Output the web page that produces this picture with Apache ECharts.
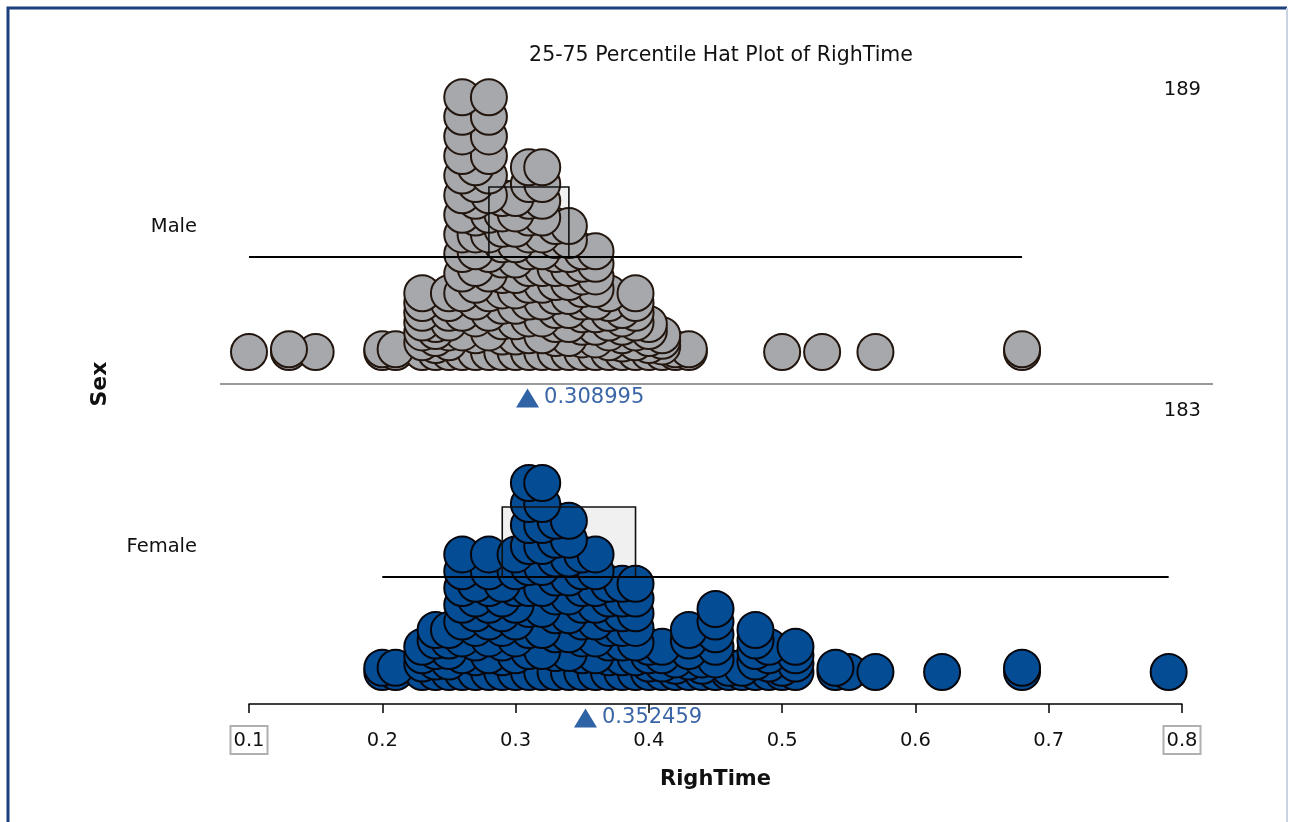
<!DOCTYPE html>
<html>
<head>
<meta charset="utf-8">
<script src="https://cdn.jsdelivr.net/npm/echarts@6/dist/echarts.min.js"></script>
<style>
html,body{margin:0;padding:0;background:#fff;}
#chart{width:1289px;height:822px;}
</style>
</head>
<body>
<div id="chart"></div>
<script>
// ---------------- data ----------------
const groups = ['Male', 'Female'];
const xTicks = [0.1, 0.2, 0.3, 0.4, 0.5, 0.6, 0.7, 0.8];

const maleValues = [0.10,0.13,0.15,0.20,0.21,0.23,0.24,0.25,0.26,0.27,0.28,0.29,0.30,0.31,0.32,0.33,0.34,0.35,0.36,0.37,0.38,0.39,0.40,0.41,0.42,0.43,0.50,0.53,0.57,0.68];
const maleCounts = [1,2,1,2,2,7,5,7,14,12,14,11,11,12,12,10,10,9,9,7,6,7,5,4,2,2,1,1,1,2];

const femaleValues = [0.20,0.21,0.23,0.24,0.25,0.26,0.27,0.28,0.29,0.30,0.31,0.32,0.33,0.34,0.35,0.36,0.37,0.38,0.39,0.40,0.41,0.42,0.43,0.44,0.45,0.46,0.47,0.48,0.49,0.50,0.51,0.54,0.55,0.57,0.62,0.68,0.79];
const femaleCounts = [2,2,4,5,5,8,7,8,7,8,10,10,9,9,8,8,7,7,7,4,4,3,5,3,6,2,2,5,4,2,4,2,1,1,1,2,1];

const maleQuartiles = [0.28, 0.34];
const maleRange = [0.10, 0.68];
const femaleQuartiles = [0.29, 0.39];
const femaleRange = [0.20, 0.79];
const meanValues = [0.308995, 0.352459];

// ---------------- layout constants ----------------
const FONT = '"DejaVu Sans", sans-serif';
const GRID_H = 262;          // y units == px inside each panel
const HAT_LINE = 95;
const HAT_TOP = 165;
const MEAN_LEVEL = -46;
const STACK_K = [1.4, 2.1];  // stacking spread per panel

function stackPoints(values, counts, k) {
  const pts = [];
  values.forEach((v, i) => {
    const n = counts[i];
    for (let j = 0; j < n; j++) pts.push([v, j * n * k]);
  });
  pts.sort((a, b) => a[1] - b[1] || a[0] - b[0]);
  return pts;
}
const sum = a => a.reduce((s, x) => s + x, 0);

const maleDots = stackPoints(maleValues, maleCounts, STACK_K[0]);
const femaleDots = stackPoints(femaleValues, femaleCounts, STACK_K[1]);

const hatData = [
  [[maleQuartiles[0], maleQuartiles[1], maleRange[0], maleRange[1]]],
  [[femaleQuartiles[0], femaleQuartiles[1], femaleRange[0], femaleRange[1]]]
];

function hatFill(params, api) {
  const a = api.coord([api.value(0), HAT_TOP]);
  const b = api.coord([api.value(1), HAT_LINE]);
  return { type: 'rect', shape: { x: a[0], y: a[1], width: b[0] - a[0], height: b[1] - a[1] },
           style: { fill: '#f0f0f0', stroke: null } };
}
function hatLines(params, api) {
  const a = api.coord([api.value(0), HAT_TOP]);
  const b = api.coord([api.value(1), HAT_LINE]);
  const l = api.coord([api.value(2), HAT_LINE]);
  const r = api.coord([api.value(3), HAT_LINE]);
  return { type: 'group', children: [
    { type: 'rect', shape: { x: a[0], y: a[1], width: b[0] - a[0], height: b[1] - a[1] },
      style: { fill: null, stroke: '#111', lineWidth: 1.6 } },
    { type: 'line', shape: { x1: l[0], y1: l[1], x2: r[0], y2: r[1] },
      style: { stroke: '#000', lineWidth: 2 } }
  ]};
}

const chart = echarts.init(document.getElementById('chart'), null, { renderer: 'canvas' });

const dotStyles = [
  { color: '#A7A8AC', borderColor: '#22160e', borderWidth: 2, opacity: 1 },
  { color: '#044C94', borderColor: '#06060c', borderWidth: 2, opacity: 1 }
];

const series = [];
[maleDots, femaleDots].forEach((d, gi) => {
  series.push({ type: 'custom', xAxisIndex: gi, yAxisIndex: gi, z: 1, clip: false,
    renderItem: hatFill, data: hatData[gi], silent: true });
  series.push({ type: 'scatter', xAxisIndex: gi, yAxisIndex: gi, z: 2, clip: false,
    symbol: 'circle', symbolSize: 36, data: d, itemStyle: dotStyles[gi], silent: true });
  series.push({ type: 'custom', xAxisIndex: gi, yAxisIndex: gi, z: 3, clip: false,
    renderItem: hatLines, data: hatData[gi], silent: true });
  series.push({ type: 'scatter', xAxisIndex: gi, yAxisIndex: gi, z: 4, clip: false,
    symbol: 'triangle', symbolSize: [23, 19],
    data: [[meanValues[gi], MEAN_LEVEL]],
    itemStyle: { color: '#3062A6', opacity: 1 },
    label: { show: true, position: 'right', distance: 5, color: '#3A66A8', fontSize: 21,
      fontFamily: FONT, formatter: p => String(meanValues[gi]) },
    silent: true });
});

const option = {
  animation: false,
  backgroundColor: '#fff',
  title: {
    text: '25-75 Percentile Hat Plot of RighTime',
    left: 716, top: 40, textAlign: 'center',
    textStyle: { fontFamily: FONT, fontSize: 20.5, fontWeight: 'normal', color: '#111' }
  },
  grid: [
    { left: 249, right: 107, top: 90, bottom: 470 },
    { left: 249, right: 107, top: 410, bottom: 150 }
  ],
  xAxis: [
    { gridIndex: 0, type: 'value', min: xTicks[0], max: xTicks[xTicks.length - 1], interval: 0.1, show: false },
    { gridIndex: 1, type: 'value', min: xTicks[0], max: xTicks[xTicks.length - 1], interval: 0.1,
      offset: 32,
      axisLine: { show: true, onZero: false, lineStyle: { color: '#000', width: 1.5 } },
      axisTick: { show: true, length: 9, lineStyle: { color: '#000', width: 1.5 } },
      splitLine: { show: false },
      axisLabel: {
        margin: 22,
        formatter: v => {
          const t = v.toFixed(1);
          return (Math.abs(v - xTicks[0]) < 1e-9 || Math.abs(v - xTicks[xTicks.length - 1]) < 1e-9)
            ? '{b|' + t + '}' : '{p|' + t + '}';
        },
        rich: {
          b: { fontFamily: FONT, fontSize: 19.5, color: '#111', borderColor: '#b0b0b0', borderWidth: 2, padding: [5, 3, 3, 3] },
          p: { fontFamily: FONT, fontSize: 19.5, color: '#111', padding: [5, 3, 3, 3] }
        }
      },
      name: 'RighTime', nameLocation: 'middle', nameGap: 65,
      nameTextStyle: { fontFamily: FONT, fontSize: 21, fontWeight: 'bold', color: '#111' }
    }
  ],
  yAxis: [
    { gridIndex: 0, type: 'value', min: 0, max: GRID_H, show: false },
    { gridIndex: 1, type: 'value', min: 0, max: GRID_H, show: false }
  ],
  graphic: [
    { type: 'polyline', shape: { points: [[8, 830], [8, 8], [1287, 8]] },
      style: { stroke: '#1C3F7E', lineWidth: 3, fill: null }, z: 10 },
    { type: 'line', shape: { x1: 1287, y1: 8, x2: 1287, y2: 830 },
      style: { stroke: '#c9d3e2', lineWidth: 2 }, z: 10 },
    { type: 'line', shape: { x1: 220, y1: 384, x2: 1213, y2: 384 },
      style: { stroke: '#9a9a9a', lineWidth: 2 }, z: 0 },
    { type: 'text', x: 197, y: 227, style: { text: groups[0], textAlign: 'right', textVerticalAlign: 'middle',
      fontFamily: FONT, fontSize: 19.5, fill: '#111' } },
    { type: 'text', x: 197, y: 547, style: { text: groups[1], textAlign: 'right', textVerticalAlign: 'middle',
      fontFamily: FONT, fontSize: 19.5, fill: '#111' } },
    { type: 'text', x: 1201, y: 90, style: { text: String(sum(maleCounts)), textAlign: 'right', textVerticalAlign: 'middle',
      fontFamily: FONT, fontSize: 19.5, fill: '#111' } },
    { type: 'text', x: 1201, y: 411, style: { text: String(sum(femaleCounts)), textAlign: 'right', textVerticalAlign: 'middle',
      fontFamily: FONT, fontSize: 19.5, fill: '#111' } },
    { type: 'text', x: 100, y: 384, rotation: Math.PI / 2,
      style: { text: 'Sex', textAlign: 'center', textVerticalAlign: 'middle',
        fontFamily: FONT, fontSize: 22, fontWeight: 'bold', fill: '#111' } }
  ],
  series: series
};
chart.setOption(option);
</script>
</body>
</html>
